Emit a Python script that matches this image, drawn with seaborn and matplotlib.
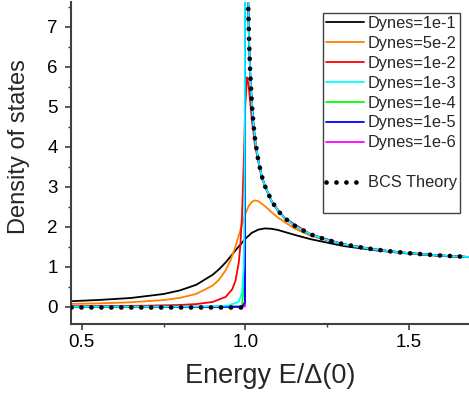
import matplotlib
matplotlib.use("Agg")
import matplotlib.pyplot as plt
from matplotlib.lines import Line2D
from matplotlib.ticker import MultipleLocator
import seaborn as sns

sns.set_theme(style="ticks")
plt.rcParams['font.family'] = ['Liberation Sans', 'DejaVu Sans']

# ─── DATA ─────────────────────────────────────────────────────────────────────
# Dynes = 1e-1
X_1E1 = [0.467, 0.55, 0.65, 0.75, 0.8, 0.85, 0.9, 0.92, 0.94, 0.97, 1.0, 1.02, 1.04,
         1.06, 1.08, 1.1, 1.15, 1.2, 1.3, 1.4, 1.5, 1.6, 1.684]
Y_1E1 = [0.14, 0.17, 0.22, 0.32, 0.41, 0.55, 0.80, 0.94, 1.11, 1.41, 1.70, 1.85, 1.93,
         1.96, 1.95, 1.92, 1.80, 1.69, 1.52, 1.41, 1.33, 1.27, 1.24]
# Dynes = 5e-2
X_5E2 = [0.467, 0.55, 0.65, 0.75, 0.8, 0.85, 0.9, 0.92, 0.94, 0.955, 0.97, 0.98, 0.99,
         1.0, 1.01, 1.02, 1.03, 1.04, 1.06, 1.08, 1.1, 1.15, 1.2, 1.3, 1.4, 1.5, 1.6, 1.684]
Y_5E2 = [0.072, 0.085, 0.113, 0.169, 0.224, 0.322, 0.529, 0.682, 0.914, 1.167, 1.507,
         1.779, 2.062, 2.321, 2.515, 2.625, 2.660, 2.639, 2.517, 2.367, 2.228, 1.958,
         1.776, 1.553, 1.423, 1.339, 1.279, 1.242]
# Dynes = 1e-2
X_1E2 = [0.467, 0.6, 0.7, 0.8, 0.85, 0.9, 0.94, 0.96, 0.97, 0.98, 0.985, 0.99, 0.995,
         1.0, 1.005, 1.01, 1.02, 1.03, 1.05, 1.08, 1.12, 1.2, 1.3, 1.4, 1.5, 1.6, 1.684]
Y_1E2 = [0.015, 0.020, 0.028, 0.046, 0.068, 0.12, 0.248, 0.439, 0.652, 1.105, 1.547,
         2.30, 3.55, 5.04, 5.74, 5.55, 4.68, 4.02, 3.23, 2.63, 2.22, 1.81, 1.565, 1.429,
         1.342, 1.281, 1.244]
# Dynes = 1e-3 (below / around the gap edge)
X_1E3 = [0.467, 0.7, 0.8, 0.9, 0.95, 0.98, 0.99, 0.995, 0.997, 0.998, 0.999, 1.0, 1.002, 1.005]
Y_1E3 = [0.0015, 0.0027, 0.0046, 0.012, 0.033, 0.127, 0.354, 0.978, 2.02, 3.44, 7.2,
         11.2, 15.5, 10.0]
# Dynes = 1e-4, 1e-5, 1e-6 (below / around the gap edge)
X_EDGE = [0.467, 0.9, 0.99, 0.999, 1.0, 1.002, 1.005]
Y_1E4 = [0.0, 0.001, 0.01, 1.0, 50.0, 15.8, 10.0]
Y_1E5 = [0.0, 0.0, 0.001, 0.11, 158.0, 15.8, 10.0]
Y_1E6 = [0.0, 0.0, 0.0, 0.011, 500.0, 15.8, 10.0]

# BCS theory: zero inside the gap, then the branch above it
BCS_X_LOW = [0.467, 1.0]
BCS_Y_LOW = [0.0, 0.0]
BCS_X = [1.0085, 1.01, 1.012, 1.015, 1.02, 1.025, 1.03, 1.04, 1.05, 1.06, 1.08, 1.1, 1.12,
         1.15, 1.2, 1.25, 1.3, 1.35, 1.4, 1.45, 1.5, 1.55, 1.6, 1.65, 1.684]
BCS_Y = [7.72, 7.12, 6.51, 5.84, 5.07, 4.56, 4.17, 3.64, 3.28, 3.02, 2.65, 2.40, 2.22,
         2.03, 1.81, 1.67, 1.565, 1.49, 1.43, 1.38, 1.34, 1.31, 1.28, 1.26, 1.244]

LABELS = ["Dynes=1e-1", "Dynes=5e-2", "Dynes=1e-2", "Dynes=1e-3",
          "Dynes=1e-4", "Dynes=1e-5", "Dynes=1e-6"]
COLORS = ["black", "#ff8000", "#ff0000", "#00ffff", "#00ff00", "#0000ff", "#ff00ff"]

series = [
    (X_1E1, Y_1E1),
    (X_5E2, Y_5E2),
    (X_1E2, Y_1E2),
    (X_1E3 + BCS_X[1:], Y_1E3 + BCS_Y[1:]),
    (X_EDGE + BCS_X[1:], Y_1E4 + BCS_Y[1:]),
    (X_EDGE + BCS_X[1:], Y_1E5 + BCS_Y[1:]),
    (X_EDGE + BCS_X[1:], Y_1E6 + BCS_Y[1:]),
]
ZORDER = [2, 2.1, 2.2, 2.7, 2.4, 2.6, 2.5]

# ─── PLOT ────────────────────────────────────────────────────────────────────
fig = plt.figure(figsize=(4.69, 3.97), dpi=100)
ax = fig.add_axes([71 / 469, 1 - 324 / 397, 398 / 469, 322 / 397])

for (xs, ys), lab, col, z in zip(series, LABELS, COLORS, ZORDER):
    sns.lineplot(x=xs, y=ys, color=col, lw=1.3, label=lab, ax=ax,
                 sort=False, estimator=None, zorder=z)

dot_style = (0, (0.01, 2.1))
sns.lineplot(x=BCS_X_LOW, y=BCS_Y_LOW, color="black", lw=3.4, linestyle=dot_style,
             dash_capstyle="round", sort=False, estimator=None, ax=ax, zorder=3)
sns.lineplot(x=BCS_X, y=BCS_Y, color="black", lw=3.4, linestyle=dot_style,
             dash_capstyle="round", sort=False, estimator=None, ax=ax, zorder=3,
             label="BCS Theory")

ax.set_xlim(0.467, 1.684)
ax.set_ylim(-0.43, 7.62)
ax.xaxis.set_major_locator(MultipleLocator(0.5))
ax.xaxis.set_minor_locator(MultipleLocator(0.25))
ax.yaxis.set_major_locator(MultipleLocator(1))
ax.yaxis.set_minor_locator(MultipleLocator(0.5))
ax.set_xticks([0.5, 1.0, 1.5])
ax.set_xticklabels(["0.5", "1.0", "1.5"])

sns.despine(ax=ax)
for side in ["left", "bottom"]:
    ax.spines[side].set_color("#404040")
    ax.spines[side].set_linewidth(1.5)
ax.tick_params(which="major", length=4.5, width=1.2, color="#404040",
               labelsize=13.5, labelcolor="black")
ax.tick_params(axis="y", which="major", pad=5)
ax.tick_params(axis="x", which="major", pad=3)
ax.tick_params(which="minor", length=2.5, width=1.0, color="#404040")

ax.set_xlabel("Energy E/\u0394(0)", fontsize=19.5, va="baseline")
ax.xaxis.set_label_coords(0.5, -0.183)
ax.set_ylabel("Density of states", fontsize=17, va="center", ha="center")
ax.yaxis.set_label_coords(-0.131, 0.55)

handles, labels = ax.get_legend_handles_labels()
blank1 = Line2D([], [], linestyle="none")
blank2 = Line2D([], [], linestyle="none")
order = handles[:7] + [blank1, handles[7], blank2]
names = labels[:7] + [" ", labels[7], "  "]
leg = ax.legend(order, names, loc="upper right", bbox_to_anchor=(0.978, 0.967),
                fontsize=11.8, frameon=True, fancybox=False, framealpha=1,
                edgecolor="#404040", handlelength=2.3, handletextpad=0.25,
                labelspacing=0.3, borderpad=0.2, borderaxespad=0)
leg.get_frame().set_linewidth(1.0)

plt.savefig("out.png", dpi=100)
plt.close()
